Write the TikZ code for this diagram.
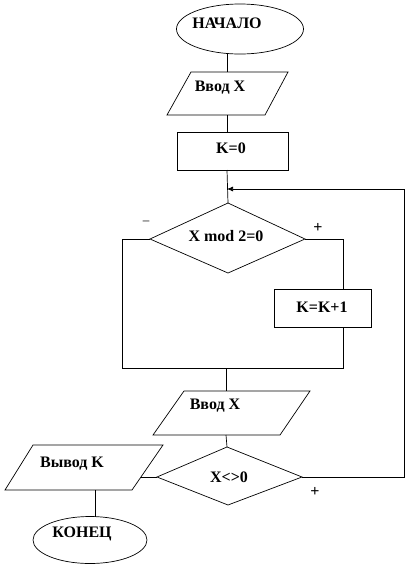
\documentclass[tikz,border=0pt]{standalone}
\usepackage{fontspec}
\setmainfont{Liberation Serif}
\usetikzlibrary{shapes.geometric,arrows.meta}
\begin{document}
\begin{tikzpicture}[x=1pt,y=-1pt,line width=0.7pt,
  lbl/.style={font=\fontsize{16}{18}\selectfont\bfseries,inner sep=0pt},
  sgn/.style={font=\fontsize{16}{18}\selectfont\bfseries,inner sep=0pt},
  term/.style={draw,ellipse,inner sep=0pt},
  blk/.style={draw},
  link/.style={draw},
  arr/.style={draw,-{Latex[length=6pt,width=5pt]}}]
\useasboundingbox (0,0) rectangle (408,566);

% start
\node[term,minimum width=127pt,minimum height=50pt] (start) at (240,29) {};
\node[lbl] (startT) at (227,23) {НАЧАЛО};

% input 1
\coordinate (in1a) at (191,72); \coordinate (in1b) at (288,72);
\coordinate (in1c) at (265,115); \coordinate (in1d) at (167,115);
\draw[blk] (in1a) -- (in1b) -- (in1c) -- (in1d) -- cycle;
\node[lbl] (in1T) at (220,88) {Ввод X};

% K=0
\coordinate (k0a) at (177,132); \coordinate (k0b) at (288,170);
\draw[blk] (k0a) rectangle (k0b);
\node[lbl] (k0T) at (231,148) {K=0};

% diamond 1
\coordinate (d1t) at (228,203); \coordinate (d1r) at (305,239);
\coordinate (d1b) at (228,273); \coordinate (d1l) at (150,239);
\draw[blk] (d1t) -- (d1r) -- (d1b) -- (d1l) -- cycle;
\node[lbl] (d1T) at (226,236) {X mod 2=0};

% K=K+1
\coordinate (k1a) at (274,289); \coordinate (k1b) at (371,327);
\draw[blk] (k1a) rectangle (k1b);
\node[lbl] (k1T) at (322,307) {K=K+1};

% input 2
\coordinate (in2a) at (184,391); \coordinate (in2b) at (310,391);
\coordinate (in2c) at (280,435); \coordinate (in2d) at (153,435);
\draw[blk] (in2a) -- (in2b) -- (in2c) -- (in2d) -- cycle;
\node[lbl] (in2T) at (215,406) {Ввод X};

% diamond 2
\coordinate (d2t) at (227,447); \coordinate (d2r) at (302,477);
\coordinate (d2b) at (228,505); \coordinate (d2l) at (157,477);
\draw[blk] (d2t) -- (d2r) -- (d2b) -- (d2l) -- cycle;
\node[lbl] (d2T) at (229,477) {X<>0};

% output
\coordinate (outa) at (33,445); \coordinate (outb) at (163,445);
\coordinate (outc) at (132,490); \coordinate (outd) at (5,490);
\draw[blk] (outa) -- (outb) -- (outc) -- (outd) -- cycle;
\node[lbl] (outT) at (72,464) {Вывод K};

% end
\node[term,minimum width=114pt,minimum height=47pt] (stop) at (90,540) {};
\node[lbl] (stopT) at (82,534) {КОНЕЦ};

% connectors
\coordinate (s1) at (227,54);
\coordinate (s2) at (227,72);
\draw[link] (s1) -- (s2);
\coordinate (s3) at (227,115);
\coordinate (s4) at (227,132);
\draw[link] (s3) -- (s4);
\coordinate (s5) at (227,170);
\draw[link] (s5) -- (d1t);
\coordinate (m1) at (227,189);
\coordinate (lr1) at (122,239);
\coordinate (lr2) at (122,368);
\coordinate (j1) at (226,368);
\coordinate (rr1) at (343,239);
\coordinate (rr2) at (343,289);
\coordinate (rr3) at (343,327);
\coordinate (rr4) at (343,368);
\draw[link] (d1l) -- (lr1) -- (lr2) -- (rr4) -- (rr3);
\draw[link] (d1r) -- (rr1) -- (rr2);
\coordinate (j2) at (226,391);
\draw[link] (j1) -- (j2);
\coordinate (j3) at (226,435);
\draw[link] (j3) -- (d2t);
\coordinate (lp1) at (141,477);
\draw[link] (d2l) -- (lp1);
\coordinate (lp2) at (95,490);
\coordinate (lp3) at (95,516.5);
\draw[link] (lp2) -- (lp3);
\coordinate (rp1) at (404,477);
\coordinate (rp2) at (404,189);
\draw[arr] (d2r) -- (rp1) -- (rp2) -- (m1);

% branch labels
\node[sgn,font=\fontsize{13}{15}\selectfont] (minus1) at (146,223) {–};
\node[sgn] (plus1) at (318,228) {+};
\node[sgn] (plus2) at (315,492) {+};
\end{tikzpicture}
\end{document}
